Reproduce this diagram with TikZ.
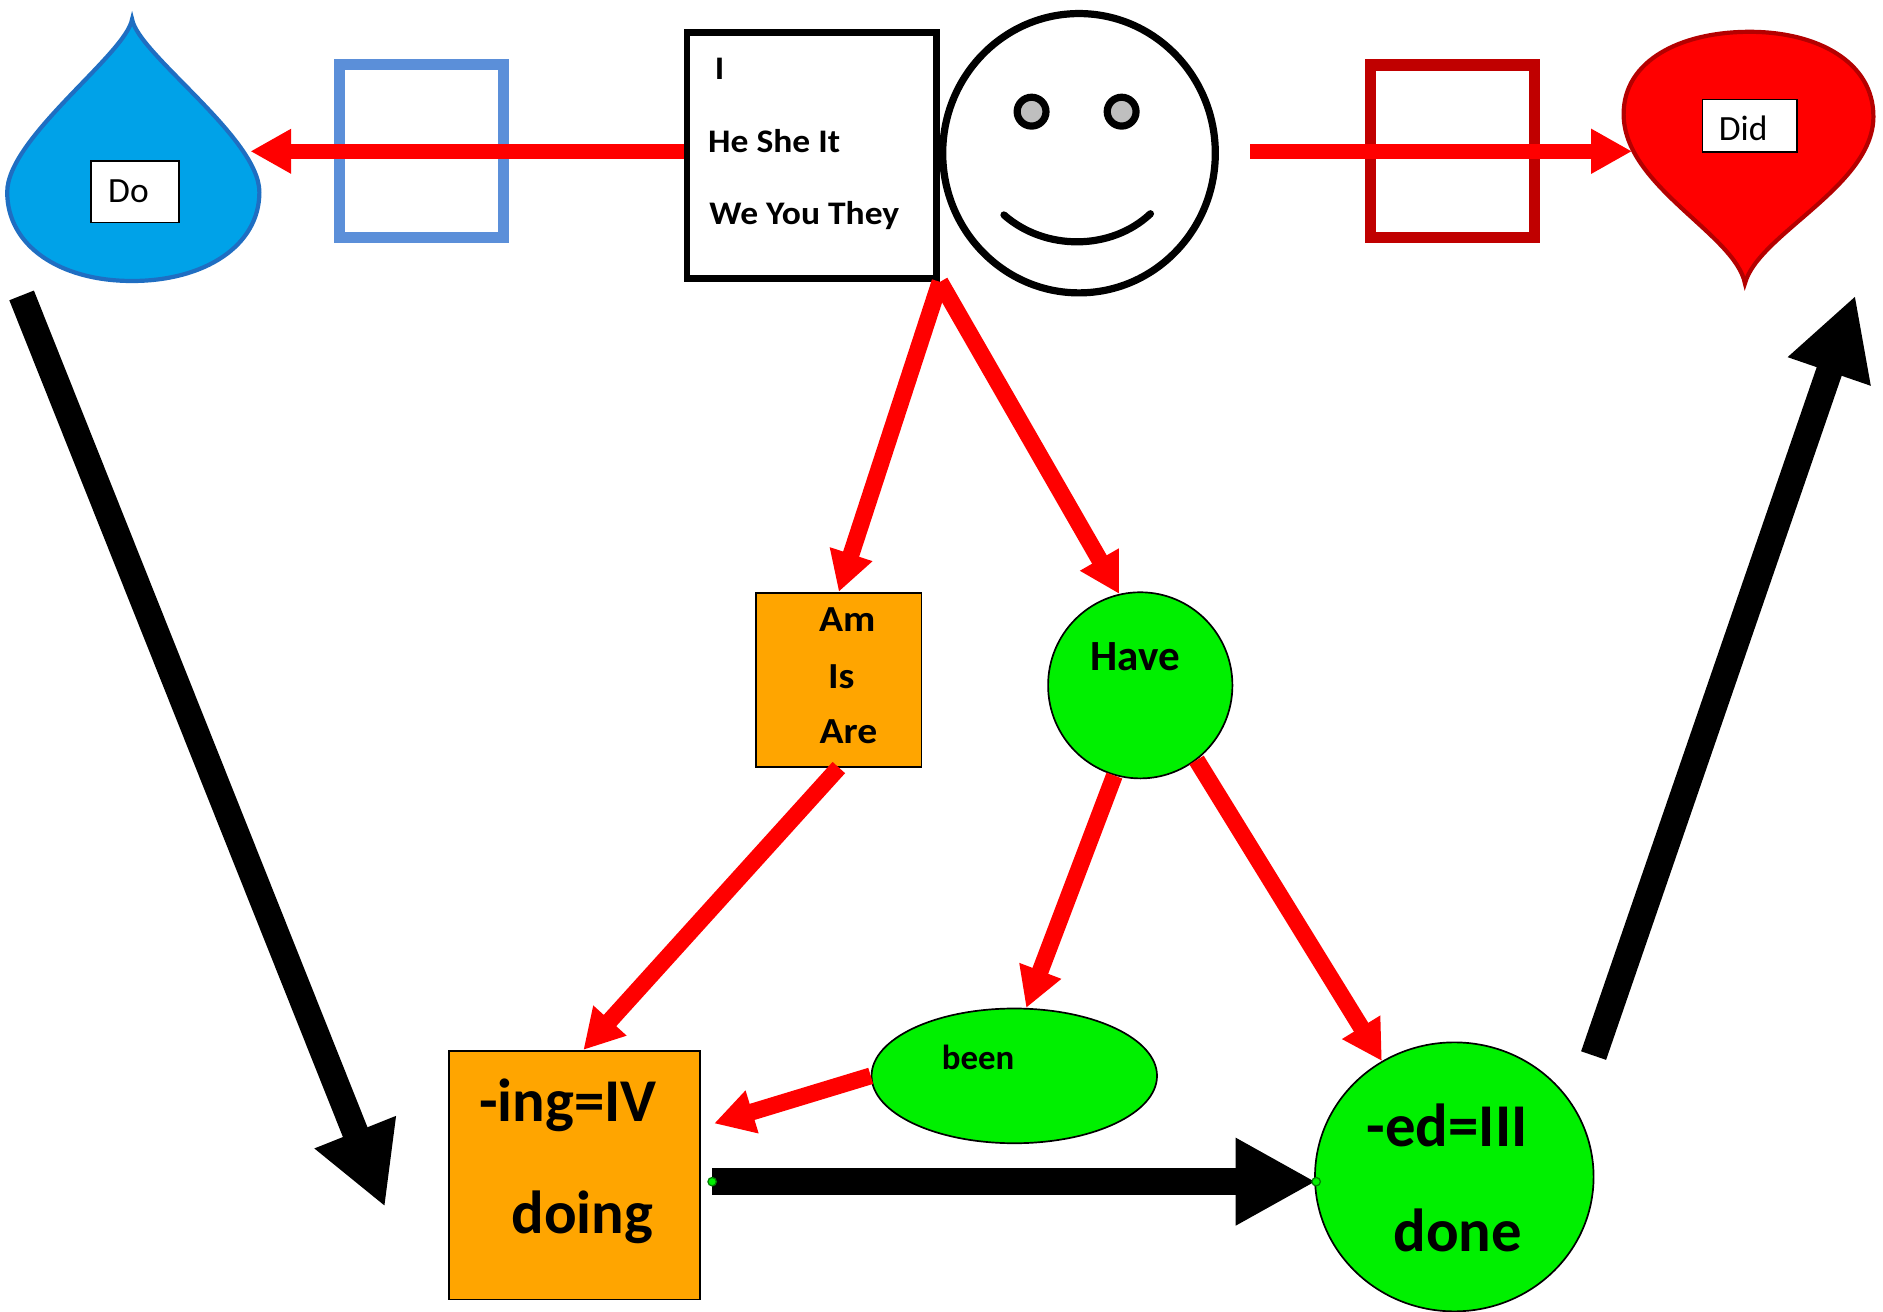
\documentclass[tikz,border=0pt]{standalone}
\usepackage{fontspec}
\setmainfont{Carlito}
\newfontfamily\widefont{Carlito}[FakeStretch=1.08]
\usepackage{xcolor}
\usetikzlibrary{shapes,arrows.meta,positioning,calc}

\definecolor{dropblue}{HTML}{00A2E8}
\definecolor{dropedge}{HTML}{1F6EC2}
\definecolor{frameblue}{HTML}{5B8FD9}
\definecolor{framered}{HTML}{C00000}
\definecolor{pinred}{HTML}{FF0000}
\definecolor{pinedge}{HTML}{B40000}
\definecolor{linered}{HTML}{FF0000}
\definecolor{boxorange}{HTML}{FFA500}
\definecolor{blobgreen}{HTML}{00F000}

\begin{document}
\begin{tikzpicture}[x=1cm,y=-1cm,
    redarrow/.style={draw=linered, line width=1.4mm, -{Triangle[length=3.3mm,width=3.5mm]}},
    redwide/.style={draw=linered, line width=1.25mm, -{Triangle[length=3.4mm,width=3.5mm]}},
    bigarrow/.style={line width=2.2mm, -{Triangle[length=6.7mm,width=6.8mm]}},
    orangebox/.style={draw, fill=boxorange, line width=0.4pt, inner sep=0pt},
    greenblob/.style={draw, fill=blobgreen, ellipse, line width=0.4pt, inner sep=0pt},
    labelbox/.style={draw, fill=white, line width=0.4pt, inner sep=0pt},
    pronword/.style={inner sep=0pt, font=\widefont\bfseries\fontsize{7.8}{9}\selectfont},
    amword/.style={inner sep=0pt, anchor=base, font=\widefont\bfseries\fontsize{8.7}{10}\selectfont},
    bigword/.style={inner sep=0pt, anchor=base, font=\bfseries\fontsize{14.4}{17}\selectfont}]
  \useasboundingbox (0,0) rectangle (15.68,10.925);

  % Do drop and Did pin
  \draw[fill=dropblue, draw=dropedge, line width=0.35mm] (1.10,0.16) .. controls (1.15,0.45) and (2.16,1.15) .. (2.16,1.60) .. controls (2.16,2.05) and (1.70,2.34) .. (1.10,2.34) .. controls (0.50,2.34) and (0.06,2.05) .. (0.06,1.60) .. controls (0.06,1.15) and (1.05,0.45) .. (1.10,0.16) -- cycle;
  \node[labelbox, minimum width=0.73cm, minimum height=0.51cm] (dobox) at (1.123,1.598) {};
  \node[inner sep=0pt, anchor=base, font=\fontsize{8.4}{10}\selectfont] (doword) at (1.07,1.685) {Do};
  \draw[fill=pinred, draw=pinedge, line width=0.35mm] (14.53,2.36) .. controls (14.45,1.95) and (13.52,1.55) .. (13.52,0.95) .. controls (13.52,0.50) and (14.00,0.265) .. (14.57,0.265) .. controls (15.14,0.265) and (15.60,0.52) .. (15.60,0.97) .. controls (15.60,1.55) and (14.64,1.95) .. (14.53,2.36) -- cycle;
  \node[labelbox, minimum width=0.785cm, minimum height=0.44cm] (didbox) at (14.57,1.048) {};
  \node[inner sep=0pt, anchor=base, font=\fontsize{8.4}{10}\selectfont] (didword) at (14.515,1.17) {Did};

  % empty frames
  \draw[frameblue, line width=0.9mm] (2.83,0.54) rectangle (4.19,1.98);
  \draw[framered, line width=0.95mm] (11.41,0.54) rectangle (12.78,1.98);

  % pronouns
  \node[draw, line width=0.55mm, minimum width=2.08cm, minimum height=2.05cm] (pron) at (6.76,1.295) {};
  \node[pronword, anchor=base west] (pI) at (5.945,0.661) {I};
  \node[pronword, anchor=base west] (pHe) at (5.89,1.271) {He She It};
  \node[pronword, anchor=base west] (pWe) at (5.90,1.868) {We You They};

  % smiley
  \draw[line width=0.6mm] (8.985,1.276) ellipse [x radius=1.135, y radius=1.163];
  \foreach \x in {8.59,9.34}
    \draw[fill=gray!50, line width=0.6mm] (\x,0.93) circle (0.12); % Eyes
  \draw[line width=0.6mm, line cap=round] (8.36,1.79) .. controls (8.70,2.09) and (9.25,2.09) .. (9.58,1.78); % Mouth

  % middle and bottom shapes
  \node[orangebox, minimum width=1.376cm, minimum height=1.449cm] (am) at (6.985,5.66) {};
  \node[greenblob, minimum width=1.535cm, minimum height=1.55cm] (have) at (9.495,5.707) {};
  \node[greenblob, minimum width=2.377cm, minimum height=1.122cm] (been) at (8.446,8.959) {};
  \node[orangebox, minimum width=2.09cm, minimum height=2.07cm] (ing) at (4.785,9.785) {};
  \node[greenblob, minimum width=2.32cm, minimum height=2.24cm] (ed) at (12.11,9.80) {};

  \node[amword] (wAm) at (7.055,5.255) {Am};
  \node[amword] (wIs) at (7.005,5.73) {Is};
  \node[amword] (wAre) at (7.065,6.19) {Are};
  \node[inner sep=0pt, anchor=base, font=\bfseries\fontsize{10.2}{12}\selectfont] (wHave) at (9.455,5.58) {Have};
  \node[inner sep=0pt, anchor=base, font=\bfseries\fontsize{8.25}{10}\selectfont] (wBeen) at (8.145,8.905) {been};
  \node[bigword] (wIng) at (4.73,9.34) {-ing=IV};
  \node[bigword] (wDoing) at (4.85,10.27) {doing};
  \node[bigword] (wEd) at (12.05,9.55) {-ed=III};
  \node[bigword] (wDone) at (12.14,10.42) {done};

  % red arrows
  \coordinate (dropR) at (2.085,1.26);
  \coordinate (faceR) at (10.41,1.26);
  \coordinate (pinL) at (13.59,1.26);
  \draw[redwide] (pron.west |- dropR) -- (dropR);
  \draw[redwide] (faceR) -- (pinL);
  \draw[redarrow] (pron.south east) -- (am.north);
  \draw[redarrow] (pron.south east) -- (have.103);
  \draw[redarrow] (am.south) -- (ing.86);
  \draw[redarrow] (have.254) -- (been.80);
  \draw[redarrow] (have.307) -- (ed.122);
  \draw[redarrow] (been.west) -- ($(ing.east)+(0.11,-0.43)$);

  % black arrows
  \coordinate (doS) at (0.18,2.46);
  \coordinate (doE) at (3.206,10.05);
  \coordinate (dotL) at (5.93,9.84);
  \coordinate (dotR) at (10.96,9.84);
  \coordinate (edS) at (13.27,8.79);
  \coordinate (didE) at (15.45,2.46);
  \draw[bigarrow] (doS) -- (doE);
  \draw[bigarrow] (dotL) -- (dotR);
  \draw[bigarrow] (edS) -- (didE);
  \foreach \p in {dotL,dotR}
    \draw[draw=green!50!black, fill=blobgreen, line width=0.3pt] (\p) circle (0.035); % End dots
\end{tikzpicture}
\end{document}
